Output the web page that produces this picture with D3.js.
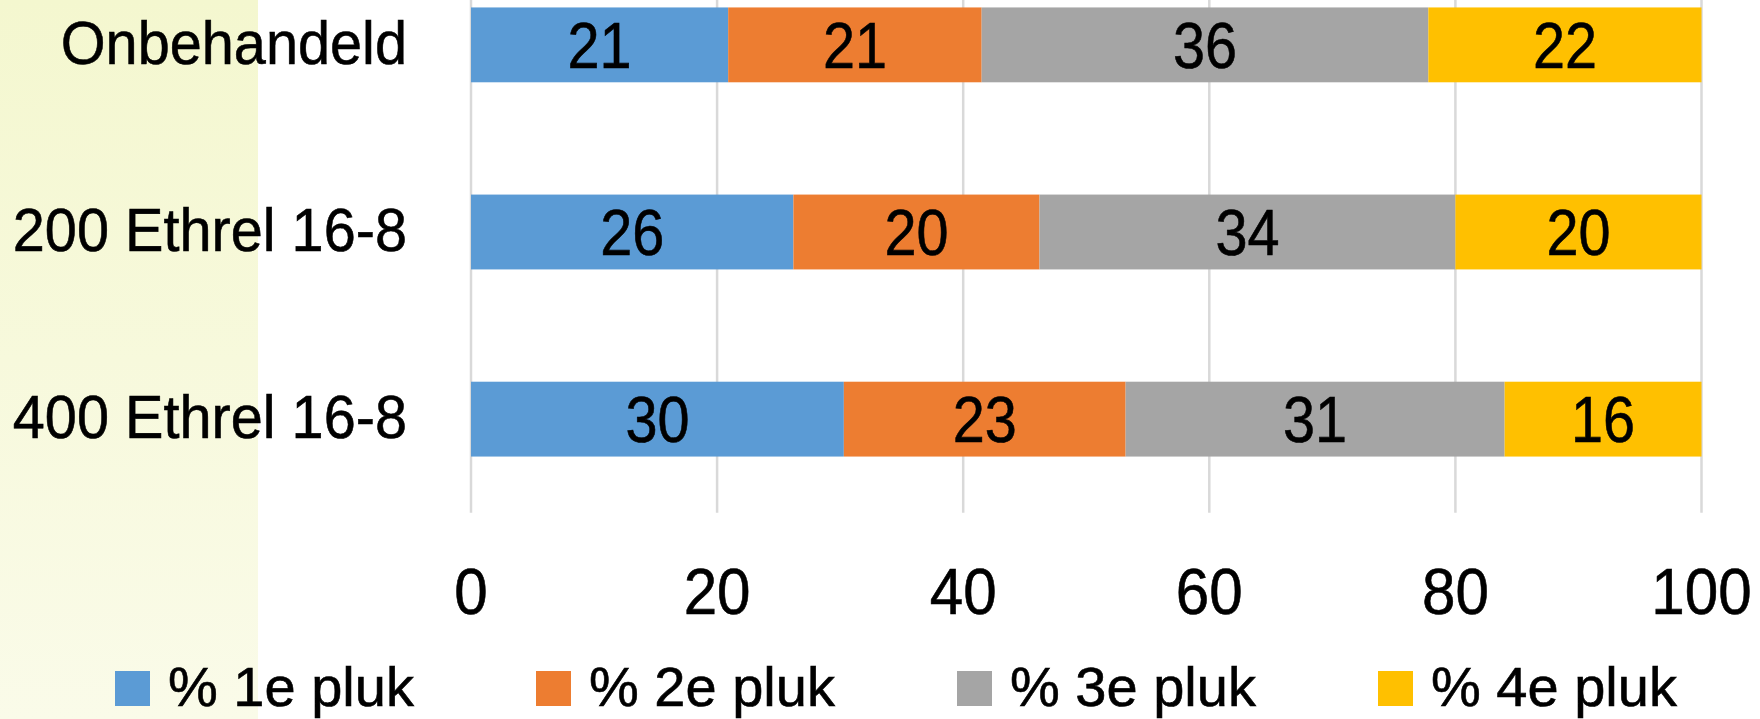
<!DOCTYPE html>
<html>
<head>
<meta charset="utf-8">
<script src="https://cdn.jsdelivr.net/npm/d3@7/dist/d3.min.js"></script>
<style>
    html, body { margin: 0; padding: 0; background: #ffffff; }
    svg { display: block; }
    text { font-family: "Liberation Sans", Arial, sans-serif; fill: #000000; stroke: #000000; stroke-width: 0.6px; }
</style>
</head>
<body>
<svg id="svg1" width="1760" height="719"></svg>
<script>
"use strict";

// categories (top to bottom) and the four picking rounds
let categories = ["Onbehandeld", "200 Ethrel 16-8", "400 Ethrel 16-8"];
let seriesNames = ["% 1e pluk", "% 2e pluk", "% 3e pluk", "% 4e pluk"];
let pluk1 = [20.9, 26.2, 30.3];
let pluk2 = [20.6, 20.0, 22.9];
let pluk3 = [36.3, 33.8, 30.8];
let pluk4 = [22.2, 20.0, 16.0];
let xTicks = [0, 20, 40, 60, 80, 100];
let colors = ["#5b9bd5", "#ed7d31", "#a5a5a5", "#ffc000"];

function drawChart() {
    let svg = d3.select("#svg1");

    // light yellow band on the left side of the slide
    let defs = svg.append("defs");
    let grad = defs.append("linearGradient").attr("id", "bgGrad")
        .attr("x1", 0).attr("y1", 0).attr("x2", 0).attr("y2", 1);
    grad.append("stop").attr("offset", "0%").attr("stop-color", "#f4f7cf");
    grad.append("stop").attr("offset", "100%").attr("stop-color", "#fafbe9");
    svg.append("rect").attr("x", 0).attr("y", 0).attr("width", 258).attr("height", 719)
        .attr("fill", "url(#bgGrad)");

    let x = d3.scaleLinear().domain([0, 100]).range([471, 1701.5]);
    let y = d3.scaleBand().domain(categories).range([-48.7, 512.7])
        .paddingInner(0.6).paddingOuter(0.3);

    // build the stacked table
    let table = categories.map((c, i) => ({
        cat: c,
        s0: pluk1[i], s1: pluk2[i], s2: pluk3[i], s3: pluk4[i]
    }));
    let keys = ["s0", "s1", "s2", "s3"];
    let stacked = d3.stack().keys(keys)(table);

    // vertical gridlines
    svg.append("g").selectAll("line").data(xTicks).enter().append("line")
        .attr("x1", d => x(d)).attr("x2", d => x(d))
        .attr("y1", 0).attr("y2", 512.7)
        .attr("stroke", "#d9d9d9").attr("stroke-width", 2.5);

    // bars
    let layer = svg.append("g").selectAll("g").data(stacked).enter().append("g")
        .attr("fill", (d, i) => colors[i]);
    layer.selectAll("rect").data(d => d).enter().append("rect")
        .attr("x", d => x(d[0]))
        .attr("width", d => x(d[1]) - x(d[0]))
        .attr("y", d => y(d.data.cat))
        .attr("height", y.bandwidth());

    // data labels, centred in each segment
    layer.selectAll("text").data(d => d).enter().append("text")
        .attr("transform", d => `translate(${(x(d[0]) + x(d[1])) / 2},${y(d.data.cat) + y.bandwidth() / 2 + 23}) scale(0.9,1)`)
        .attr("text-anchor", "middle")
        .style("font-size", "64px")
        .text(d => d3.format(".0f")(d[1] - d[0]));

    // category labels
    svg.append("g").selectAll("text").data(categories).enter().append("text")
        .attr("transform", d => `translate(407,${y(d) + y.bandwidth() / 2 + 19}) scale(0.93,1)`)
        .attr("text-anchor", "end")
        .style("font-size", "62px")
        .text(d => d);

    // x axis tick labels
    svg.append("g").selectAll("text").data(xTicks).enter().append("text")
        .attr("transform", d => `translate(${x(d)},614) scale(0.94,1)`)
        .attr("text-anchor", "middle")
        .style("font-size", "64px")
        .text(d => d);

    // legend
    let legend = svg.append("g").selectAll("g").data(seriesNames).enter().append("g")
        .attr("transform", (d, i) => `translate(${115 + i * 421},671)`);
    legend.append("rect").attr("width", 35).attr("height", 35)
        .attr("fill", (d, i) => colors[i]);
    legend.append("text").attr("x", 53).attr("y", 35)
        .style("font-size", "56px")
        .text(d => d);
}

drawChart();
</script>
</body>
</html>
